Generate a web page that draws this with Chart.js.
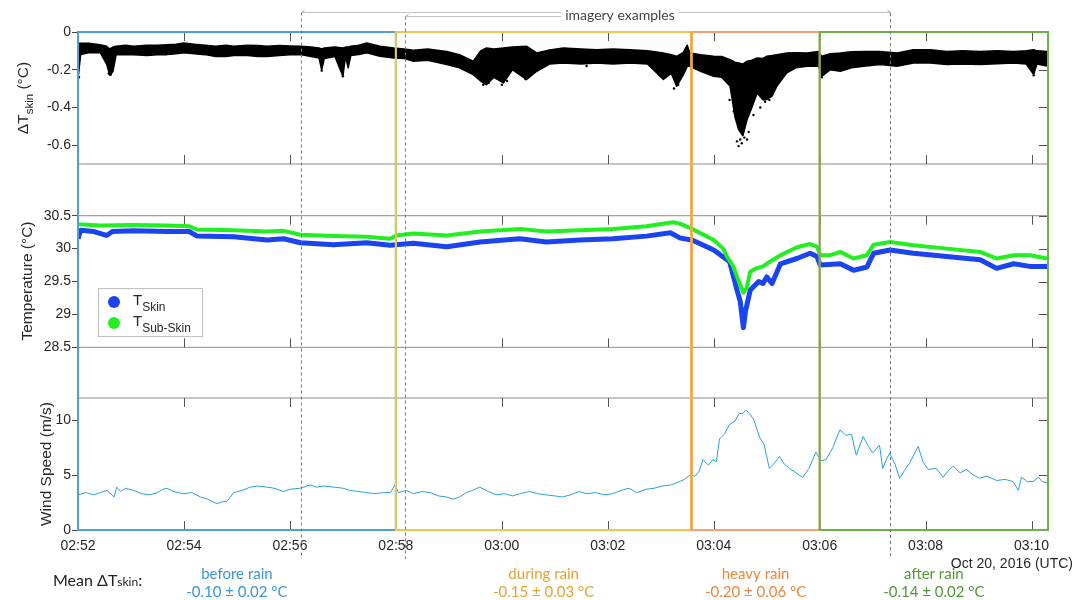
<!DOCTYPE html>
<html>
<head>
<meta charset="utf-8">
<script src="https://cdn.jsdelivr.net/npm/chart.js@4.4.0/dist/chart.umd.min.js"></script>
<style>
  html, body { margin: 0; padding: 0; background: #fff; }
  #wrap { width: 1089px; height: 600px; }
</style>
</head>
<body>
<div id="wrap"><canvas id="chart" width="1089" height="600"></canvas></div>
<script>
// time is in minutes after 02:52 UTC (Oct 20, 2016)
const xMax = 18.31;
const xTicks = [0, 2, 4, 6, 8, 10, 12, 14, 16, 18];
const xTickLabels = ['02:52', '02:54', '02:56', '02:58', '03:00', '03:02', '03:04', '03:06', '03:08', '03:10'];
const dtTicks = [0, -0.2, -0.4, -0.6];
const tempTicks = [28.5, 29, 29.5, 30, 30.5];
const windTicks = [0, 5, 10];

// rain periods
const periodNames = ['before rain', 'during rain', 'heavy rain', 'after rain'];
const periodMeans = ['-0.10 ± 0.02 °C', '-0.15 ± 0.03 °C', '-0.20 ± 0.06 °C', '-0.14 ± 0.02 °C'];
const periodBounds = [0, 6, 11.58, 14, 18.31];
const imageryTimes = [4.21, 6.18, 15.32];

// delta T skin: band of the dense point cloud (upper / lower edge)
const dtT = [0, 0.05, 0.2, 0.42, 0.54, 0.6, 0.66, 0.72, 0.9, 1.05,
  1.3, 1.5, 1.68, 1.85, 2.0, 2.2, 2.4, 2.6, 2.8, 2.94,
  3.2, 3.4, 3.57, 3.8, 4.0, 4.2, 4.4, 4.55, 4.6, 4.65,
  4.85, 5.0, 5.05, 5.1, 5.15, 5.3, 5.45, 5.7, 5.96, 6.15,
  6.33, 6.6, 6.96, 7.2, 7.46, 7.6, 7.71, 7.85, 8.03, 8.2,
  8.47, 8.66, 8.9, 9.16, 9.5, 9.79, 10.1, 10.42, 10.75, 11.05,
  11.2, 11.3, 11.42, 11.5, 11.55, 11.75, 12.0, 12.15, 12.31, 12.4,
  12.47, 12.55, 12.63, 12.72, 12.82, 12.93, 13.0, 13.1, 13.19, 13.38,
  13.55, 13.76, 13.98, 14.04, 14.2, 14.39, 14.6, 14.83, 15.14, 15.46,
  15.77, 16.09, 16.4, 16.7, 17.03, 17.35, 17.66, 17.9, 18.04, 18.1,
  18.29];
const dtUpper = [-0.06, -0.06, -0.06, -0.067, -0.076, -0.09, -0.08, -0.076, -0.07, -0.076,
  -0.07, -0.07, -0.067, -0.065, -0.058, -0.065, -0.07, -0.076, -0.07, -0.076,
  -0.07, -0.072, -0.076, -0.072, -0.074, -0.076, -0.08, -0.085, -0.09, -0.085,
  -0.08, -0.085, -0.08, -0.08, -0.075, -0.07, -0.058, -0.076, -0.085, -0.09,
  -0.097, -0.09, -0.103, -0.12, -0.155, -0.1, -0.085, -0.09, -0.085, -0.08,
  -0.076, -0.111, -0.095, -0.085, -0.09, -0.094, -0.09, -0.094, -0.1, -0.111,
  -0.12, -0.129, -0.11, -0.07, -0.111, -0.12, -0.129, -0.13, -0.147, -0.16,
  -0.164, -0.17, -0.155, -0.15, -0.138, -0.14, -0.129, -0.125, -0.12, -0.111,
  -0.11, -0.111, -0.103, -0.129, -0.115, -0.111, -0.105, -0.103, -0.103, -0.111,
  -0.094, -0.094, -0.103, -0.1, -0.103, -0.1, -0.103, -0.1, -0.094, -0.1,
  -0.103];
const dtLower = [-0.25, -0.12, -0.11, -0.11, -0.17, -0.23, -0.21, -0.12, -0.12, -0.12,
  -0.125, -0.12, -0.12, -0.115, -0.11, -0.115, -0.12, -0.13, -0.13, -0.125,
  -0.125, -0.13, -0.13, -0.125, -0.12, -0.12, -0.13, -0.138, -0.2, -0.14,
  -0.13, -0.235, -0.13, -0.19, -0.125, -0.12, -0.11, -0.129, -0.138, -0.14,
  -0.155, -0.15, -0.173, -0.19, -0.226, -0.26, -0.28, -0.24, -0.27, -0.2,
  -0.252, -0.208, -0.17, -0.164, -0.17, -0.164, -0.17, -0.164, -0.17, -0.252,
  -0.22, -0.288, -0.23, -0.182, -0.182, -0.208, -0.235, -0.24, -0.288, -0.45,
  -0.517, -0.55, -0.464, -0.4, -0.323, -0.36, -0.358, -0.34, -0.288, -0.217,
  -0.19, -0.182, -0.182, -0.235, -0.2, -0.208, -0.19, -0.182, -0.173, -0.182,
  -0.164, -0.164, -0.173, -0.17, -0.173, -0.168, -0.164, -0.17, -0.226, -0.17,
  -0.18];
// isolated low points below the band
const dtDipT = [0.02, 0.58, 0.62, 4.6, 5.0, 7.3, 7.65, 7.75, 8.0, 8.1, 8.45, 9.6, 11.25, 11.33,
  12.3, 12.38, 12.44, 12.47, 12.5, 12.53, 12.58, 12.63, 12.66, 12.75, 12.88, 12.97, 13.05, 14.04, 18.04];
const dtDipV = [-0.24, -0.22, -0.225, -0.205, -0.235, -0.2, -0.28, -0.27, -0.28, -0.26, -0.25, -0.18, -0.3, -0.28,
  -0.36, -0.42, -0.58, -0.605, -0.57, -0.59, -0.56, -0.57, -0.53, -0.44, -0.4, -0.37, -0.36, -0.24, -0.23];

// T sub-skin (green)
const tSubT = [0, 0.42, 1.05, 1.68, 2.1, 2.25, 2.94, 3.57, 3.88, 4.2,
  4.82, 5.45, 5.89, 6.01, 6.33, 6.96, 7.59, 8.34, 8.84, 9.47,
  10.1, 10.73, 11.23, 11.36, 11.59, 12.0, 12.18, 12.25, 12.37, 12.44,
  12.49, 12.56, 12.62, 12.69, 12.8, 12.93, 13.0, 13.26, 13.57, 13.82,
  13.95, 14.01, 14.2, 14.39, 14.64, 14.89, 15.02, 15.33, 15.77, 16.4,
  17.03, 17.34, 17.66, 17.97, 18.29];
const tSubV = [30.37, 30.35, 30.36, 30.35, 30.34, 30.29, 30.28, 30.26, 30.27, 30.21,
  30.19, 30.18, 30.15, 30.2, 30.23, 30.2, 30.26, 30.3, 30.26, 30.28,
  30.3, 30.34, 30.4, 30.38, 30.3, 30.13, 30.0, 29.88, 29.73, 29.57,
  29.47, 29.33, 29.4, 29.65, 29.7, 29.73, 29.77, 29.9, 30.02, 30.07,
  30.03, 29.9, 29.9, 29.95, 29.85, 29.9, 30.06, 30.1, 30.05, 30.0,
  29.95, 29.85, 29.9, 29.9, 29.85];

// T skin (blue)
const tSkinT = [0, 0.05, 0.3, 0.54, 0.65, 1.05, 1.68, 2.1, 2.25, 2.94,
  3.57, 3.88, 4.2, 4.82, 5.45, 5.89, 6.33, 6.96, 7.59, 8.34,
  8.84, 9.47, 10.1, 10.73, 11.18, 11.37, 11.59, 12.0, 12.3, 12.44,
  12.5, 12.56, 12.6, 12.69, 12.85, 12.93, 13.0, 13.1, 13.26, 13.57,
  13.82, 13.95, 14.01, 14.39, 14.64, 14.89, 15.02, 15.33, 15.77, 16.4,
  17.03, 17.34, 17.66, 17.97, 18.29];
const tSkinV = [30.15, 30.28, 30.26, 30.2, 30.26, 30.27, 30.26, 30.26, 30.19, 30.18,
  30.13, 30.15, 30.09, 30.06, 30.09, 30.05, 30.08, 30.03, 30.1, 30.15,
  30.1, 30.13, 30.15, 30.19, 30.24, 30.16, 30.13, 29.98, 29.8, 29.37,
  29.2, 28.8, 29.05, 29.37, 29.5, 29.47, 29.57, 29.47, 29.77, 29.85,
  29.93, 29.88, 29.75, 29.77, 29.67, 29.72, 29.93, 29.98, 29.93, 29.88,
  29.83, 29.7, 29.77, 29.73, 29.73];

// wind speed (m/s)
const windT = [0, 0.15, 0.3, 0.42, 0.55, 0.68, 0.73, 0.8, 0.9, 1.05,
  1.2, 1.36, 1.5, 1.6, 1.68, 1.8, 1.99, 2.15, 2.31, 2.45,
  2.62, 2.75, 2.81, 2.94, 3.1, 3.25, 3.4, 3.56, 3.7, 3.88,
  4.0, 4.2, 4.38, 4.5, 4.65, 4.82, 5.0, 5.13, 5.3, 5.45,
  5.6, 5.77, 5.9, 5.98, 6.05, 6.2, 6.33, 6.5, 6.65, 6.8,
  6.96, 7.08, 7.2, 7.33, 7.45, 7.58, 7.75, 7.89, 8.05, 8.2,
  8.35, 8.52, 8.68, 8.83, 9.0, 9.14, 9.3, 9.46, 9.6, 9.77,
  9.93, 10.09, 10.25, 10.4, 10.55, 10.72, 10.88, 11.03, 11.2, 11.35,
  11.45, 11.55, 11.65, 11.72, 11.8, 11.9, 11.99, 12.05, 12.11, 12.2,
  12.3, 12.4, 12.48, 12.55, 12.61, 12.67, 12.75, 12.87, 12.95, 13.05,
  13.15, 13.24, 13.33, 13.43, 13.55, 13.68, 13.8, 13.93, 14.02, 14.12,
  14.25, 14.38, 14.5, 14.6, 14.69, 14.82, 14.92, 15.0, 15.13, 15.19,
  15.25, 15.32, 15.42, 15.51, 15.6, 15.7, 15.86, 15.95, 16.05, 16.2,
  16.33, 16.45, 16.52, 16.65, 16.77, 16.9, 17.02, 17.15, 17.34, 17.5,
  17.65, 17.75, 17.81, 17.92, 18.03, 18.13, 18.2, 18.29];
const windV = [3.2, 3.4, 3.2, 3.4, 3.6, 3.0, 3.9, 3.5, 3.8, 3.6,
  3.3, 3.2, 3.4, 3.7, 3.8, 3.5, 3.3, 3.4, 3.0, 2.8,
  2.4, 2.6, 2.6, 3.4, 3.6, 3.9, 4.0, 3.9, 3.8, 3.5,
  3.7, 3.8, 4.1, 3.9, 4.0, 3.9, 3.8, 3.6, 3.5, 3.4,
  3.3, 3.4, 3.4, 4.1, 3.4, 3.6, 3.3, 3.5, 3.4, 3.1,
  3.0, 2.8, 3.0, 3.4, 3.6, 3.9, 3.5, 3.2, 3.3, 3.1,
  3.3, 3.5, 3.3, 3.2, 3.1, 3.0, 3.2, 3.5, 3.3, 3.4,
  3.2, 3.3, 3.6, 3.8, 3.4, 3.7, 3.8, 4.0, 4.1, 4.4,
  4.6, 5.0, 4.9, 5.3, 6.4, 5.9, 6.4, 6.2, 8.3, 8.7,
  9.6, 9.9, 10.6, 10.6, 10.9, 10.6, 10.1, 8.4, 7.8, 5.6,
  6.1, 6.7, 6.0, 5.6, 5.2, 4.8, 5.6, 7.1, 6.3, 6.4,
  7.5, 9.1, 8.6, 8.7, 6.8, 8.5, 7.6, 7.0, 7.7, 5.6,
  6.3, 7.0, 6.0, 4.7, 5.4, 6.1, 7.6, 6.2, 5.5, 5.6,
  4.8, 5.5, 5.8, 5.2, 5.5, 5.0, 4.7, 4.9, 4.5, 4.6,
  4.4, 3.6, 4.8, 4.4, 4.4, 4.8, 4.4, 4.3];

const periodColors = ['#4ea0d2', '#f0c64e', '#f2a27a', '#6cb04c'];
const periodTextColors = ['#3a96d8', '#e6a332', '#f0873a', '#4e9a33'];
const tickFont = { family: 'Liberation Sans, Arial, sans-serif', size: 14 };
const noteFont = 'Lato, "Open Sans", sans-serif';

function pts(ts, vs) {
    return ts.map((t, i) => ({ x: t, y: vs[i] }));
}

function seg(ctx, x1, y1, x2, y2) {
    ctx.beginPath();
    ctx.moveTo(x1, y1);
    ctx.lineTo(x2, y2);
    ctx.stroke();
}

// draws text made of runs with their own font and baseline shift
function richText(ctx, parts, x, y, align) {
    let w = 0;
    parts.forEach(p => { ctx.font = p.font; w += ctx.measureText(p.text).width; });
    let cx = align === 'center' ? x - w / 2 : (align === 'right' ? x - w : x);
    ctx.textAlign = 'left';
    ctx.textBaseline = 'alphabetic';
    parts.forEach(p => {
        ctx.font = p.font;
        ctx.fillText(p.text, cx, y + (p.dy || 0));
        cx += ctx.measureText(p.text).width;
    });
}

function rotatedTitle(ctx, parts, bx, cy) {
    ctx.save();
    ctx.translate(bx, cy);
    ctx.rotate(-Math.PI / 2);
    richText(ctx, parts, 0, 0, 'center');
    ctx.restore();
}

const panelDecor = {
    id: 'panelDecor',
    beforeDatasetsDraw(chart) {
        const { ctx, chartArea: a } = chart;
        const { x, yDT, yT, yW } = chart.scales;
        const boxes = [[yDT.top, yDT.bottom], [yT.getPixelForValue(30.5), yT.getPixelForValue(28.5)], [yW.top, yW.bottom]];
        ctx.save();
        ctx.strokeStyle = '#8a8a8a';
        ctx.lineWidth = 1;
        boxes.forEach(([t, b]) => {
            seg(ctx, a.left, t, a.right, t);
            seg(ctx, a.left, b, a.right, b);
        });
        ctx.strokeStyle = '#555';
        xTicks.forEach(v => {
            const px = Math.round(x.getPixelForValue(v)) + 0.5;
            boxes.forEach(([t, b]) => {
                seg(ctx, px, t, px, t + 9);
                seg(ctx, px, b, px, b - 9);
            });
        });
        [[yDT, dtTicks], [yT, tempTicks], [yW, windTicks]].forEach(([s, ticks]) => {
            ticks.forEach(v => {
                const py = Math.round(s.getPixelForValue(v)) + 0.5;
                seg(ctx, a.right, py, a.right - 9, py);
            });
        });
        ctx.restore();
    },
    afterDatasetsDraw(chart) {
        const { ctx, chartArea: a } = chart;
        const { x, yDT, yT, yW } = chart.scales;
        ctx.save();

        // rain period boxes
        const xs = periodBounds.map(v => x.getPixelForValue(v));
        ctx.lineWidth = 2;
        periodColors.forEach((c, i) => {
            ctx.strokeStyle = c;
            ctx.strokeRect(xs[i], a.top, xs[i + 1] - xs[i], a.bottom - a.top);
        });
        ctx.strokeStyle = '#f5a623';
        seg(ctx, xs[2], a.top, xs[2], a.bottom);

        // imagery example markers
        const ix = imageryTimes.map(v => Math.round(x.getPixelForValue(v)) + 0.5);
        const tops = [12.5, 16.5, 13];
        ctx.strokeStyle = '#777';
        ctx.lineWidth = 1;
        ctx.setLineDash([3, 3]);
        ix.forEach((px, i) => seg(ctx, px, tops[i], px, 559));
        ctx.setLineDash([]);

        const textX = x.getPixelForValue(10.23);
        ctx.font = '14px ' + noteFont;
        const tw = ctx.measureText('imagery examples').width;
        ctx.strokeStyle = '#c4c4c4';
        seg(ctx, ix[0], 12.5, textX - tw / 2 - 4, 12.5);
        seg(ctx, textX + tw / 2 + 4, 12.5, ix[2], 12.5);
        seg(ctx, ix[1], 16.5, textX - tw / 2 - 4, 16.5);
        ctx.strokeStyle = '#999';
        seg(ctx, ix[0], 12.5, ix[0] + 3, 10.5);
        seg(ctx, ix[1], 16.5, ix[1] + 3, 14.5);
        seg(ctx, ix[2], 12.5, ix[2] - 3, 10.5);
        ctx.fillStyle = '#444';
        ctx.textAlign = 'center';
        ctx.textBaseline = 'alphabetic';
        ctx.fillText('imagery examples', textX, 20);

        // y axis titles
        const big = '15.5px Liberation Sans, Arial, sans-serif';
        const small = '11.5px Liberation Sans, Arial, sans-serif';
        ctx.fillStyle = '#262626';
        rotatedTitle(ctx, [
            { text: 'ΔT', font: big },
            { text: 'skin', font: small, dy: 5 },
            { text: ' (°C)', font: big }
        ], 28, (yDT.top + yDT.bottom) / 2);
        rotatedTitle(ctx, [{ text: 'Temperature (°C)', font: big }], 32, (yT.top + yT.bottom) / 2);
        rotatedTitle(ctx, [{ text: 'Wind Speed (m/s)', font: big }], 51, (yW.top + yW.bottom) / 2);

        // legend
        const lx = a.left + 20, ly = yT.getPixelForValue(29.4);
        ctx.fillStyle = '#fff';
        ctx.fillRect(lx, ly, 104, 48);
        ctx.strokeStyle = '#bdbdbd';
        ctx.strokeRect(lx + 0.5, ly + 0.5, 104, 48);
        const legendItems = [['Skin', '#1a44f0'], ['Sub-Skin', '#22ee22']];
        legendItems.forEach(([sub, col], i) => {
            const cy = ly + 14 + i * 21;
            ctx.fillStyle = col;
            ctx.beginPath();
            ctx.arc(lx + 16, cy, 6, 0, Math.PI * 2);
            ctx.fill();
            ctx.fillStyle = '#262626';
            richText(ctx, [
                { text: 'T', font: '15px Liberation Sans, Arial, sans-serif' },
                { text: sub, font: '12px Liberation Sans, Arial, sans-serif', dy: 6 }
            ], lx + 35, cy + 3, 'left');
        });

        // date under the time axis
        ctx.fillStyle = '#262626';
        ctx.font = '14px Liberation Sans, Arial, sans-serif';
        ctx.textAlign = 'right';
        ctx.fillText('Oct 20, 2016 (UTC)', 1073, 568);

        // mean delta T per period
        ctx.fillStyle = '#222';
        richText(ctx, [
            { text: 'Mean ΔT', font: '16px ' + noteFont },
            { text: 'skin', font: '12px ' + noteFont },
            { text: ':', font: '16px ' + noteFont }
        ], 53, 586, 'left');
        periodNames.forEach((name, i) => {
            const cx = x.getPixelForValue((periodBounds[i] + periodBounds[i + 1]) / 2);
            ctx.fillStyle = periodTextColors[i];
            ctx.font = '15px ' + noteFont;
            ctx.textAlign = 'center';
            ctx.fillText(name, cx, 579);
            ctx.fillText(periodMeans[i], cx, 597);
        });
        ctx.restore();
    }
};

const yCommon = {
    position: 'left',
    stack: 'panels',
    grid: { drawOnChartArea: false, drawTicks: true, tickLength: 6, color: '#444' },
    border: { display: false },
    ticks: { font: tickFont, color: '#262626', padding: 1, callback: v => String(v) },
    afterFit: s => { s.width = 78; }
};

new Chart(document.getElementById('chart'), {
    type: 'line',
    data: {
        datasets: [
            { label: 'T Sub-Skin', data: pts(tSubT, tSubV), yAxisID: 'yT', borderColor: '#22ee22', borderWidth: 4, pointRadius: 0, fill: false },
            { label: 'T Skin', data: pts(tSkinT, tSkinV), yAxisID: 'yT', borderColor: '#1a44f0', borderWidth: 5, pointRadius: 0, fill: false },
            { label: 'Wind', data: pts(windT, windV), yAxisID: 'yW', borderColor: '#2aa0d8', borderWidth: 1, pointRadius: 0, fill: false },
            { label: 'dT low', data: pts(dtT, dtLower), yAxisID: 'yDT', borderColor: '#000', borderWidth: 1.5, pointRadius: 0, fill: false },
            { label: 'dT high', data: pts(dtT, dtUpper), yAxisID: 'yDT', borderColor: '#000', borderWidth: 1.5, pointRadius: 0, fill: '-1', backgroundColor: '#000' },
            { label: 'dT dips', data: pts(dtDipT, dtDipV), yAxisID: 'yDT', showLine: false, pointRadius: 1.2, pointBackgroundColor: '#000', pointBorderWidth: 0 }
        ]
    },
    options: {
        responsive: false,
        animation: false,
        layout: { padding: { left: 0, right: 41, top: 32, bottom: 0 } },
        plugins: { legend: { display: false }, tooltip: { enabled: false } },
        elements: { line: { tension: 0, borderJoinStyle: 'round' } },
        scales: {
            x: {
                type: 'linear', min: 0, max: xMax,
                afterBuildTicks: s => { s.ticks = xTicks.map(v => ({ value: v })); },
                ticks: { font: tickFont, color: '#262626', padding: 8, maxRotation: 0, autoSkip: false,
                    callback: (v, i) => xTickLabels[i] },
                grid: { display: false, drawTicks: false },
                border: { display: false },
                afterFit: s => { s.height = 70; }
            },
            yW: Object.assign({}, yCommon, { stackWeight: 132, min: 0, max: 12,
                afterBuildTicks: s => { s.ticks = windTicks.map(v => ({ value: v })); } }),
            yT: Object.assign({}, yCommon, { stackWeight: 234, min: 27.73, max: 31.286,
                afterBuildTicks: s => { s.ticks = tempTicks.map(v => ({ value: v })); } }),
            yDT: Object.assign({}, yCommon, { stackWeight: 132, min: -0.7, max: 0,
                afterBuildTicks: s => { s.ticks = dtTicks.map(v => ({ value: v })); } })
        }
    },
    plugins: [panelDecor]
});
</script>
</body>
</html>
